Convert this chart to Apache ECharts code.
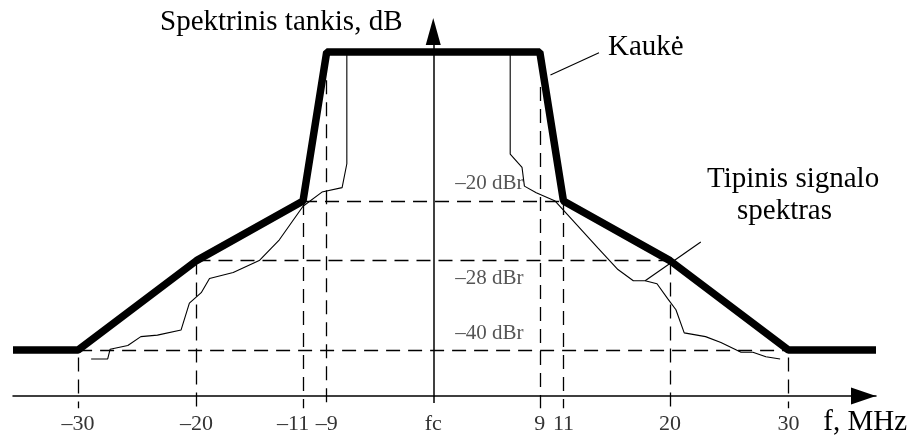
<!DOCTYPE html>
<html>
<head>
<meta charset="utf-8">
<title>Spektrinė kaukė</title>
<script src="https://cdn.jsdelivr.net/npm/echarts@6/dist/echarts.min.js"></script>
<style>
html,body{margin:0;padding:0;background:#fff;}
#chart{width:912px;height:437px;}
</style>
</head>
<body>
<div id="chart"></div>
<script>
// kaukė (MHz nuo fc, dBr)
var maskFreq = [-35.5, -30, -20, -11, -9, 9, 11, 20, 30, 37.4];
var maskLevel = [-40, -40, -28, -20, 0, 0, -20, -28, -40, -40];
// tipinis signalo spektras
var sigFreq = [-28.9, -27.5, -27.3, -25.8, -24.7, -23.3, -21.3, -20.6, -19.6, -18.9, -16.9, -14.7, -13.0, -11.0, -9.4, -7.7, -7.3, -7.3,
	6.5, 6.5, 7.5, 7.7, 8.7, 10.3, 11.9, 13.9, 15.6, 16.9, 17.9, 18.9, 19.8, 20.5, 21.2, 23.0, 24.3, 26.0, 27.0, 28.1, 29.3];
var sigLevel = [-41.2, -41.2, -39.9, -39.4, -38.2, -38.0, -37.3, -33.7, -32.3, -30.4, -29.6, -28.0, -25.2, -20.7, -18.8, -18.2, -15.0, 0,
	0, -13.7, -15.5, -18.0, -18.9, -20.0, -22.8, -26.3, -29.2, -30.7, -30.7, -31.1, -33.1, -34.6, -37.7, -38.2, -39.0, -40.3, -40.3, -40.9, -41.2];
// ašies žymės
var tickFreq = [-30, -20, -11, -9, 0, 9, 11, 20, 30];
// vertikalios punktyrinės linijos
var guideFreq = [-30, -20, -11, -9, 9, 11, 20, 30];
var guideTop = [-41, -28, -20, -3.8, -4.7, -20, -28, -41];
// horizontalios punktyrinės linijos
var refLevel = [-20, -28, -40];
var refFrom = [-11, -20, -30];
var refTo = [11, 20, 30];
var refText = ['–20 dBr', '–28 dBr', '–40 dBr'];
// rodyklės į užrašus
var maskLeader = [[9.9, -3.1], [14.0, -0.1]];
var sigLeader = [[17.9, -30.7], [22.6, -25.5]];

var serif = '"Liberation Serif", "DejaVu Serif", serif';

function pairs(xs, ys){
	var out = [];
	for (var i = 0; i < xs.length; i++) {
		out.push([xs[i], ys[i]]);
	}
	return out;
}

function tickText(v){
	if (v === 0) return 'fc';
	if (v === -11) return '{s|–11}';
	return v < 0 ? '–' + (-v) : String(v);
}

var guides = [];
for (var i = 0; i < guideFreq.length; i++) {
	guides.push({coords: [[guideFreq[i], guideTop[i]], [guideFreq[i], -47.8]]});
}
for (var j = 0; j < refLevel.length; j++) {
	guides.push({coords: [[refFrom[j], refLevel[j]], [refTo[j], refLevel[j]]]});
}

var chart = echarts.init(document.getElementById('chart'));
var option = {
	backgroundColor: '#fff',
	animation: false,
	grid: {left: 13, right: 36, top: 45, bottom: 41, containLabel: false, outerBoundsMode: 'none'},
	xAxis: {
		type: 'value',
		min: -35.5,
		max: 37.4,
		axisLine: {
			onZero: false,
			symbol: ['none', 'triangle'],
			symbolSize: [17, 25],
			symbolOffset: [0, -12.5],
			lineStyle: {color: '#000', width: 1.5}
		},
		axisTick: {show: true, customValues: [0], length: 7, lineStyle: {color: '#000', width: 1.5}},
		axisLabel: {
			customValues: tickFreq,
			formatter: tickText,
			margin: 17,
			fontFamily: serif,
			fontSize: 22,
			color: '#333',
			rich: {
				s: {fontFamily: serif, fontSize: 22, color: '#333', padding: [0, 20, 0, 0]}
			}
		},
		splitLine: {show: false}
	},
	yAxis: {
		type: 'value',
		min: -46.17,
		max: 0.94,
		axisLine: {
			onZero: true,
			symbol: ['none', 'triangle'],
			symbolSize: [15, 27],
			symbolOffset: [0, 13.5],
			lineStyle: {color: '#000', width: 1.5}
		},
		axisTick: {show: false},
		axisLabel: {show: false},
		splitLine: {show: false}
	},
	series: [
		{
			type: 'lines',
			coordinateSystem: 'cartesian2d',
			polyline: false,
			silent: true,
			clip: false,
			lineStyle: {color: '#000', width: 1.3, type: [14, 8], opacity: 1},
			data: guides
		},
		{
			name: 'Tipinis signalo spektras',
			type: 'line',
			data: pairs(sigFreq, sigLevel),
			symbol: 'none',
			clip: false,
			silent: true,
			lineStyle: {color: '#000', width: 1.1}
		},
		{
			type: 'lines',
			coordinateSystem: 'cartesian2d',
			polyline: false,
			silent: true,
			clip: false,
			lineStyle: {color: '#000', width: 1.1, opacity: 1},
			data: [{coords: maskLeader}, {coords: sigLeader}]
		},
		{
			name: 'Kaukė',
			type: 'line',
			data: pairs(maskFreq, maskLevel),
			symbol: 'none',
			clip: false,
			silent: true,
			lineStyle: {color: '#000', width: 7.5}
		}
	]
};
chart.setOption(option);

// užrašai
var texts = [
	{id: 't1', type: 'text', left: 160, top: 8, style: {text: 'Spektrinis tankis, dB', font: '29px ' + serif, fill: '#000'}},
	{id: 't2', type: 'text', left: 608, top: 33, style: {text: 'Kaukė', font: '29px ' + serif, fill: '#000'}},
	{id: 't3', type: 'text', left: 707, top: 165, style: {text: 'Tipinis signalo', font: '29px ' + serif, fill: '#000'}},
	{id: 't4', type: 'text', left: 737, top: 197, style: {text: 'spektras', font: '29px ' + serif, fill: '#000'}},
	{id: 't5', type: 'text', right: 5, top: 408, style: {text: 'f, MHz', font: '29px ' + serif, fill: '#000'}}
];
var labelShift = [-10, 25, -9];
for (var k = 0; k < refLevel.length; k++) {
	var p = chart.convertToPixel({gridIndex: 0}, [1.85, refLevel[k]]);
	texts.push({
		id: 'r' + k, type: 'text', left: p[0], top: p[1] + labelShift[k] - 17.6,
		style: {text: refText[k], font: '21px ' + serif, fill: '#555'}
	});
}
chart.setOption({graphic: texts});
</script>
</body>
</html>
